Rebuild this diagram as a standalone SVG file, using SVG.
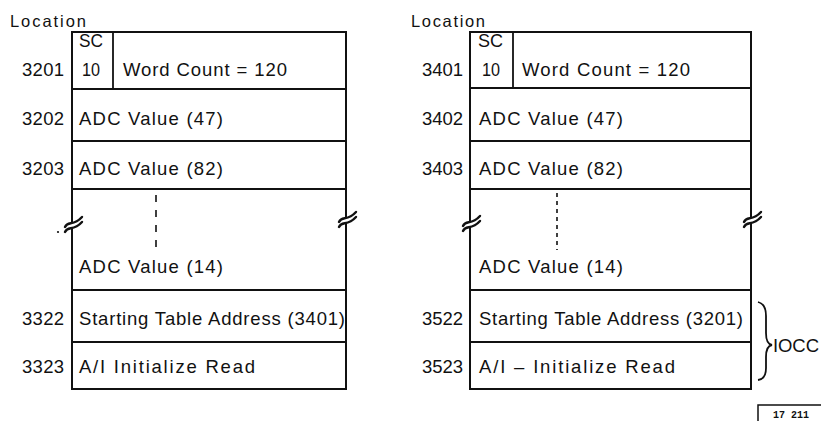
<svg xmlns="http://www.w3.org/2000/svg" width="821" height="421" viewBox="0 0 821 421">
<style>
text{font-family:"Liberation Sans",Arial,sans-serif;font-size:18.5px;fill:#111}
.box{fill:none;stroke:#111;stroke-width:2}
.div{stroke:#111;stroke-width:1.8}
.dash{stroke:#111;stroke-width:1.6}
.wave{fill:none;stroke:#111;stroke-width:2.4;stroke-linecap:round}
.gap{fill:#fff}
.mono{font-family:"Liberation Mono","Courier New",monospace;font-size:10px;font-weight:bold}
</style>
<rect width="821" height="421" fill="#fff"/>

<g id="left-table">
  <text x="10" y="27" textLength="76" lengthAdjust="spacing" style="font-size:16.5px">Location</text>
  <rect class="box" x="72" y="32" width="274" height="357"/>
  <line class="div" x1="72" y1="89" x2="346" y2="89"/>
  <line class="div" x1="113" y1="32" x2="113" y2="89"/>
  <line class="div" x1="72" y1="141" x2="346" y2="141"/>
  <line class="div" x1="72" y1="189" x2="346" y2="189"/>
  <line class="div" x1="72" y1="290" x2="346" y2="290"/>
  <line class="div" x1="72" y1="342" x2="346" y2="342"/>
  <text x="79" y="47" textLength="24" lengthAdjust="spacingAndGlyphs">SC</text>
  <text x="82" y="76" textLength="18" lengthAdjust="spacingAndGlyphs">10</text>
  <text x="22" y="76" textLength="42" lengthAdjust="spacing">3201</text>
  <text x="123" y="76" textLength="164" lengthAdjust="spacing">Word Count = 120</text>
  <text x="22" y="125" textLength="42" lengthAdjust="spacing">3202</text>
  <text x="79" y="125" textLength="144" lengthAdjust="spacing">ADC Value (47)</text>
  <text x="22" y="175" textLength="42" lengthAdjust="spacing">3203</text>
  <text x="79" y="175" textLength="144" lengthAdjust="spacing">ADC Value (82)</text>
  <line class="dash" x1="156" y1="195" x2="156" y2="250" stroke-dasharray="7 8"/>
  <text x="79" y="273" textLength="144" lengthAdjust="spacing">ADC Value (14)</text>
  <text x="22" y="325" textLength="42" lengthAdjust="spacing">3322</text>
  <text x="79" y="325" textLength="266" lengthAdjust="spacing">Starting Table Address (3401)</text>
  <text x="22" y="373" textLength="42" lengthAdjust="spacing">3323</text>
  <text x="79" y="373" textLength="176" lengthAdjust="spacing">A/I Initialize Read</text>
  <rect class="gap" x="69" y="223" width="6" height="5"/>
  <path class="wave" d="M65,227 C68,220 73,227 82,217"/>
  <path class="wave" d="M65,232 C68,225 73,232 82,222"/>
  <circle cx="58" cy="232" r="1.1" fill="#111"/>
  <rect class="gap" x="343" y="218" width="6" height="5"/>
  <path class="wave" d="M339,222 C342,215 347,222 356,212"/>
  <path class="wave" d="M339,227 C342,220 347,227 356,217"/>
</g>

<g id="right-table">
  <text x="411" y="27" textLength="74" lengthAdjust="spacing" style="font-size:16.5px">Location</text>
  <rect class="box" x="470" y="32" width="281" height="357"/>
  <line class="div" x1="470" y1="88" x2="751" y2="88"/>
  <line class="div" x1="513" y1="32" x2="513" y2="88"/>
  <line class="div" x1="470" y1="141" x2="751" y2="141"/>
  <line class="div" x1="470" y1="189" x2="751" y2="189"/>
  <line class="div" x1="470" y1="290" x2="751" y2="290"/>
  <line class="div" x1="470" y1="342" x2="751" y2="342"/>
  <text x="478" y="47" textLength="25" lengthAdjust="spacingAndGlyphs">SC</text>
  <text x="482" y="76" textLength="18" lengthAdjust="spacingAndGlyphs">10</text>
  <text x="422" y="76" textLength="41" lengthAdjust="spacing">3401</text>
  <text x="522" y="76" textLength="168" lengthAdjust="spacing">Word Count = 120</text>
  <text x="422" y="125" textLength="41" lengthAdjust="spacing">3402</text>
  <text x="479" y="125" textLength="144" lengthAdjust="spacing">ADC Value (47)</text>
  <text x="422" y="175" textLength="41" lengthAdjust="spacing">3403</text>
  <text x="479" y="175" textLength="144" lengthAdjust="spacing">ADC Value (82)</text>
  <line class="dash" x1="557" y1="193" x2="557" y2="250" stroke-dasharray="4 4"/>
  <text x="479" y="273" textLength="144" lengthAdjust="spacing">ADC Value (14)</text>
  <text x="422" y="325" textLength="41" lengthAdjust="spacing">3522</text>
  <text x="479" y="325" textLength="264" lengthAdjust="spacing">Starting Table Address (3201)</text>
  <text x="422" y="373" textLength="41" lengthAdjust="spacing">3523</text>
  <text x="479" y="373" textLength="196" lengthAdjust="spacing">A/I – Initialize Read</text>
  <rect class="gap" x="467" y="222" width="6" height="5"/>
  <path class="wave" d="M463,226 C466,219 471,226 480,216"/>
  <path class="wave" d="M463,231 C466,224 471,231 480,221"/>
  <rect class="gap" x="748" y="218" width="6" height="5"/>
  <path class="wave" d="M744,222 C747,215 752,222 761,212"/>
  <path class="wave" d="M744,227 C747,220 752,227 761,217"/>
</g>

<g id="iocc">
  <path fill="none" stroke="#111" stroke-width="1.8" d="M758,302 Q766,304 766,316 V333 Q766,344 772,345 Q766,346 766,357 V368 Q766,379 758,380"/>
  <text x="773" y="352" textLength="46" lengthAdjust="spacing">IOCC</text>
</g>

<g id="figure-number">
  <path fill="none" stroke="#111" stroke-width="1.5" d="M758,421 V405 H821"/>
  <text class="mono" x="773" y="418">17 211</text>
</g>
</svg>
